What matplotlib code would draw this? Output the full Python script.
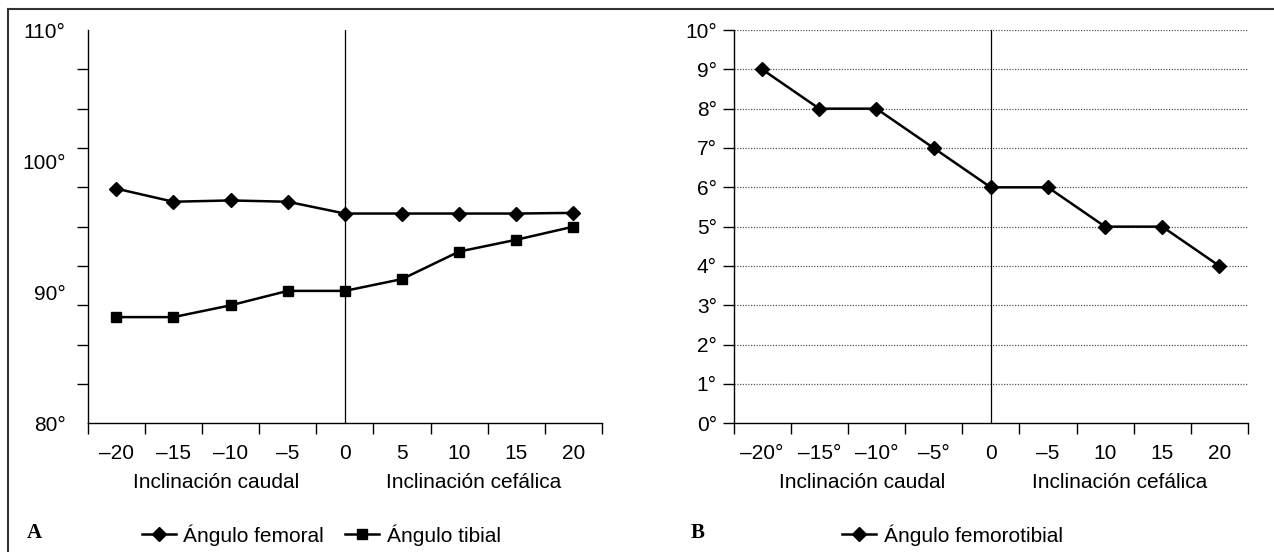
import matplotlib
matplotlib.use("Agg")
import matplotlib.pyplot as plt
from matplotlib.lines import Line2D
from matplotlib.transforms import blended_transform_factory

plt.rcParams['font.family'] = ['Liberation Sans', 'DejaVu Sans']

# ---- data ----
categories = [-20, -15, -10, -5, 0, 5, 10, 15, 20]
xlabels_a = ['–20', '–15', '–10', '–5', '0', '5', '10', '15', '20']
xlabels_b = ['–20°', '–15°', '–10°', '–5°', '0', '–5', '10', '15', '20']
femoral = [97.9, 96.9, 97.0, 96.9, 96.0, 96.0, 96.0, 96.0, 96.05]
tibial = [88.1, 88.1, 89.0, 90.1, 90.1, 91.0, 93.1, 94.0, 95.0]
femorotibial = [9, 8, 8, 7, 6, 6, 5, 5, 4]
yticks_a = [80, 90, 100, 110]
ylabels_a = ['80°', '90°', '100°', '110°']
yticks_b = list(range(0, 11))
ylabels_b = [f'{v}°' for v in yticks_b]
group_labels = ['Inclinación caudal', 'Inclinación cefálica']

FS = 15
W, H = 1274, 552
fig = plt.figure(figsize=(W / 100, H / 100), dpi=100)

def px(x0, y_top, x1, y_bot):
    return [x0 / W, 1 - y_bot / H, (x1 - x0) / W, (y_bot - y_top) / H]

axA = fig.add_axes(px(87.7, 30, 602, 423.3))
axB = fig.add_axes(px(733.5, 30, 1248, 423.3))

idx = list(range(len(categories)))

def style_axis(ax, xlabels):
    for s in ['top', 'right']:
        ax.spines[s].set_visible(False)
    for s in ['left', 'bottom']:
        ax.spines[s].set_linewidth(1.0)
    ax.set_xlim(-0.5, len(categories) - 0.5)
    ax.set_xticks(idx)
    ax.set_xticklabels(xlabels, fontsize=FS)
    ax.set_xticks([i - 0.5 for i in range(len(categories) + 1)], minor=True)
    ax.tick_params(axis='x', which='major', length=0, pad=15)
    ax.tick_params(axis='x', which='minor', length=8, width=1.0, direction='out')
    ax.axvline(4, color='black', lw=0.9, zorder=1)
    tr = blended_transform_factory(ax.transData, ax.transAxes)
    ax.text(1.75, -0.151, group_labels[0], transform=tr, ha='center', va='center', fontsize=FS)
    ax.text(6.25, -0.151, group_labels[1], transform=tr, ha='center', va='center', fontsize=FS)

# ---- Panel A ----
style_axis(axA, xlabels_a)
axA.set_ylim(80, 110)
axA.set_yticks(yticks_a)
axA.set_yticklabels(ylabels_a, fontsize=FS)
axA.set_yticks(list(range(80, 111, 3)), minor=True)
axA.tick_params(axis='y', which='major', length=0, pad=16)
axA.tick_params(axis='y', which='minor', length=8, width=1.0, direction='out')
lf, = axA.plot(idx, femoral, color='black', lw=1.8, marker='D', ms=6.7, zorder=3)
lt, = axA.plot(idx, tibial, color='black', lw=1.8, marker='s', ms=7.4, zorder=3)

# ---- Panel B ----
style_axis(axB, xlabels_b)
axB.set_ylim(0, 10)
axB.set_yticks(yticks_b)
axB.set_yticklabels(ylabels_b, fontsize=FS)
axB.tick_params(axis='y', which='major', length=8, width=1.0, pad=4)
for v in yticks_b[1:]:
    axB.axhline(v, color='#555555', lw=0.9, ls=(0, (1, 1.2)), zorder=0)
lb, = axB.plot(idx, femorotibial, color='black', lw=1.8, marker='D', ms=6.7, zorder=3)

# ---- Legends ----
leg_kw = dict(loc='center left', frameon=False, fontsize=FS, borderpad=0, borderaxespad=0,
              handlelength=1.65, handletextpad=0.35, columnspacing=1.0)
fig.legend([lf, lt], ['Ángulo femoral', 'Ángulo tibial'], ncol=2,
           bbox_to_anchor=(141.7 / W, 1 - 535 / H), **leg_kw)
fig.legend([lb], ['Ángulo femorotibial'], ncol=1,
           bbox_to_anchor=(842 / W, 1 - 535 / H), **leg_kw)

fig.text(34.5 / W, 1 - 533 / H, 'A', fontsize=FS, fontweight='bold',
         family=['Liberation Serif', 'DejaVu Serif'], ha='center', va='center')
fig.text(698 / W, 1 - 533 / H, 'B', fontsize=FS, fontweight='bold',
         family=['Liberation Serif', 'DejaVu Serif'], ha='center', va='center')

# ---- frame ----
fig.add_artist(Line2D([8 / W, 1.0], [1 - 8.7 / H, 1 - 8.7 / H], transform=fig.transFigure,
                      color='#333333', lw=1.5))
fig.add_artist(Line2D([8 / W, 8 / W], [0.0, 1 - 8.7 / H], transform=fig.transFigure,
                      color='#333333', lw=1.5))

fig.savefig('out.png', dpi=100)
